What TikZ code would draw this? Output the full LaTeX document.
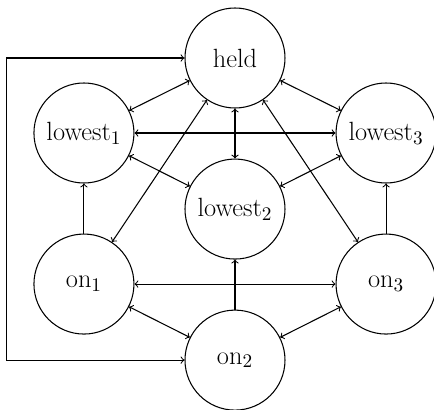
\documentclass[tikz,border=0pt]{standalone}
\usetikzlibrary{positioning}

\begin{document}
\begin{tikzpicture}[
        state/.style = {draw, circle, minimum size=2cm, inner sep=1pt, font=\fontsize{15}{18}\selectfont},%
        every path/.style = {line width=0.6pt},%
        link/.style = {<->},%
        push/.style = {->}%
    ]%
        \useasboundingbox (-4.7,-7.04) rectangle (3.98,1.16);
        \node[state] (held) {held};
        \node[state, left=1cm of held, yshift=-1.5cm] (l1) {lowest$_1$};
        \node[state, right=1cm of held, yshift=-1.5cm] (l3) {lowest$_3$};
        \node[state, below=1cm of held] (l2) {lowest$_2$};
        \node[state, below=1cm of l1] (o1) {on$_1$};
        \node[state, below=1cm of l3] (o3) {on$_3$};
        \node[state, below=1cm of l2] (o2) {on$_2$};
        \draw[link] (held) -- (l1);
        \draw[link] (held) -- (l3);
        \draw[link] (held) -- (l2);
        \draw[link] (l1) -- (l3);
        \draw[link] (l1) -- (l2);
        \draw[link] (l3) -- (l2);
        \draw[link] (o1) -- (held);
        \draw[link] (o3) -- (held);
        \draw[link] (o1) -- (o3);
        \draw[link] (o1) -- (o2);
        \draw[link] (o3) -- (o2);
        \draw[push] (o1) -- (l1);
        \draw[push] (o3) -- (l3);
        \draw[push] (o2) -- (l2);
        \draw[link] (held.west) -- ++(-3.55,0) |- (o2.west);
    \end{tikzpicture}
\end{document}
